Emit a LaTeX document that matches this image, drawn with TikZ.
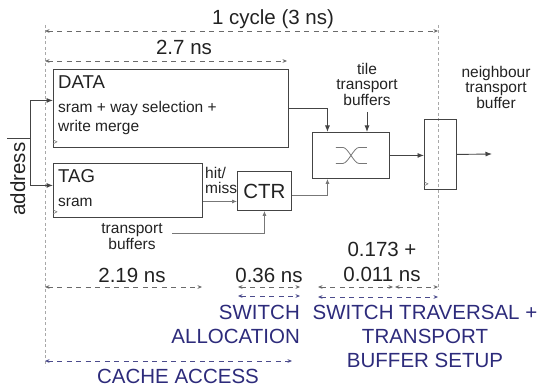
\documentclass[tikz,border=0pt]{standalone}
\usepackage{fontspec}
\setmainfont{Liberation Sans}
\usetikzlibrary{arrows.meta}
\definecolor{boxc}{HTML}{444444}
\definecolor{thinc}{HTML}{777777}
\definecolor{dashc}{HTML}{6A6A6A}
\definecolor{vlc}{HTML}{A8A8A8}
\definecolor{navy}{HTML}{2D2B7B}
\definecolor{navyarr}{HTML}{4B4B8C}
\definecolor{txt}{HTML}{222222}
\begin{document}
\begin{tikzpicture}[x=1pt,y=-1pt,
  blk/.style={draw=boxc,line width=0.9pt,inner sep=0pt,anchor=north west},
  lbig/.style={font=\fontsize{20.5}{24}\selectfont,text=txt,inner sep=0pt},
  lmid/.style={font=\fontsize{18.6}{20}\selectfont,text=txt,inner sep=0pt},
  lsmall/.style={font=\fontsize{15.5}{15.5}\selectfont,text=txt,inner sep=0pt},
  lblue/.style={font=\fontsize{20.5}{24}\selectfont,text=navy,inner sep=0pt},
  arr/.style={draw=boxc,line width=0.9pt,-{Latex[length=6.5pt,width=5pt]}},
  thinarr/.style={draw=thinc,line width=0.7pt,-{Latex[length=5pt,width=4pt]}},
  timearr/.style={draw=dashc,line width=0.8pt,dash pattern=on 5pt off 4.5pt,{Stealth[length=4.5pt,width=3.8pt]}-{Stealth[length=4.5pt,width=3.8pt]}},
  bluearr/.style={timearr,draw=navyarr},
  vline/.style={draw=vlc,line width=0.7pt,dash pattern=on 3pt off 2.5pt},
  clk/.style={draw=thinc,line width=0.5pt}
]
\useasboundingbox (0,0) rectangle (540,387);

% vertical reference lines
\coordinate (vl0) at (45,25); \coordinate (vl1) at (45,366);
\coordinate (vr0) at (438,25); \coordinate (vr1) at (438,290);
\draw[vline] (vl0) -- (vl1);
\draw[vline] (vr0) -- (vr1);

% boxes
\node[blk,minimum width=235pt,minimum height=78pt] (data) at (53,69) {};
\node[blk,minimum width=149pt,minimum height=54pt] (tag) at (53,163) {};
\node[blk,minimum width=54pt,minimum height=39pt,font=\fontsize{20.5}{24}\selectfont,text=txt] (ctr) at (237,171) {CTR};
\node[blk,minimum width=77pt,minimum height=46pt] (sw) at (312,132) {};
\node[blk,minimum width=32pt,minimum height=70pt] (reg) at (424,119) {};

% clock marks
\draw[clk] ([shift={(0,-8)}]data.south west) -- ([shift={(4,-6)}]data.south west) -- ([shift={(0,-4)}]data.south west);
\draw[clk] ([shift={(0,-8)}]tag.south west) -- ([shift={(4,-6)}]tag.south west) -- ([shift={(0,-4)}]tag.south west);
\draw[clk] ([shift={(0,-8)}]reg.south west) -- ([shift={(4,-6)}]reg.south west) -- ([shift={(0,-4)}]reg.south west);

% switch symbol
\begin{scope}[shift={(sw.center)}]
 \draw[draw=thinc,line width=0.8pt] (-15,-8) -- (-8,-8) .. controls (-3,-8) and (3,8) .. (8,8) -- (16,8);
 \draw[draw=thinc,line width=0.8pt] (-15,8) -- (-8,8) .. controls (-3,8) and (3,-8) .. (8,-8) -- (16,-8);
\end{scope}

% texts in boxes
\node[lmid,anchor=base west] (datat) at (58,89) {DATA};
\node[lsmall,anchor=north west,align=left,font=\fontsize{15.5}{19.3}\selectfont] (datad) at (58,100.9) {sram + way selection +\\write merge};
\node[lmid,anchor=base west] (tagt) at (58,183) {TAG};
\node[lsmall,anchor=base west] (tagd) at (58,207) {sram};

% other labels
\node[lsmall,anchor=north west,align=left] (hm) at (205,167) {hit/\\miss};
\node[lsmall,anchor=north,align=center] (tb) at (132,223.7) {transport\\buffers};
\node[lsmall,anchor=north,align=center] (tile) at (367,63) {tile\\transport\\buffers};
\node[lsmall,anchor=north,align=center] (nb) at (496,66) {neighbour\\transport\\buffer};
\node[lbig,anchor=base,rotate=90] (addr) at (25,179) {address};

% connectors
\coordinate (ain) at (7,138); \coordinate (aj) at (30,138);
\draw[draw=boxc,line width=0.9pt] (ain) -- (aj);
\draw[arr] (aj) |- ([yshift=8pt]data.west);
\draw[arr] (aj) |- ([yshift=5pt]tag.west);
\draw[arr] (data.east) -| ([xshift=-23.5pt]sw.north);
\coordinate (tl) at ([yshift=-6pt]tile.south);
\draw[arr] (tl) -- (tl |- sw.north);
\coordinate (tg) at ([yshift=-11pt]tag.east);
\draw[thinarr] (tg) -- (tg -| ctr.west);
\coordinate (ct) at ([yshift=-4.5pt]ctr.east);
\draw[thinarr] (ct) -| ([xshift=-23.5pt]sw.south);
\coordinate (tbs) at ([xshift=9.5pt,yshift=3.6pt]tb.east);
\draw[thinarr] (tbs) -| (ctr.south);
\draw[arr] (sw.east) -- (sw.east -| reg.west);
\coordinate (out) at (492,154);
\draw[arr] (reg.east) -- (out);

% timing labels
\node[lbig,anchor=base] (cyc) at (273,24.5) {1 cycle (3 ns)};
\node[lbig,anchor=base] (t27) at (184,55) {2.7 ns};
\node[lbig,anchor=base] (t219) at (132,282) {2.19 ns};
\node[lbig,anchor=base] (t036) at (269,282) {0.36 ns};
\node[lbig,anchor=north,align=center,font=\fontsize{20.5}{25}\selectfont] (t0173) at (382,242.3) {0.173 +\\0.011 ns};
\node[lblue,anchor=north east,align=right] (swa) at (300,305.3) {SWITCH\\ALLOCATION};
\node[lblue,anchor=north,align=center] (swt) at (425,305.3) {SWITCH TRAVERSAL +\\TRANSPORT\\BUFFER SETUP};
\node[lblue,anchor=base] (ca) at (178,383) {CACHE ACCESS};

% timing arrows
\coordinate (c1a) at (45,31); \coordinate (c1b) at (438,31);
\draw[timearr] (c1a) -- (c1b);
\coordinate (a27a) at (45,61); \coordinate (a27b) at (287,61);
\draw[timearr] (a27a) -- (a27b);
\coordinate (a219a) at (45,287); \coordinate (a219b) at (202,287);
\draw[timearr] (a219a) -- (a219b);
\coordinate (a036a) at (238,287); \coordinate (a036b) at (300,287);
\draw[timearr] (a036a) -- (a036b);
\coordinate (a173a) at (318,287); \coordinate (a173b) at (393,287);
\draw[timearr] (a173a) -- (a173b);
\coordinate (a011a) at (395,287); \coordinate (a011b) at (438,287);
\draw[timearr] (a011a) -- (a011b);
\coordinate (b1a) at (238,296); \coordinate (b1b) at (300,296);
\draw[bluearr] (b1a) -- (b1b);
\coordinate (b2a) at (318,297); \coordinate (b2b) at (438,297);
\draw[bluearr] (b2a) -- (b2b);
\coordinate (b3a) at (45,361); \coordinate (b3b) at (292,361);
\draw[bluearr] (b3a) -- (b3b);
\end{tikzpicture}
\end{document}
